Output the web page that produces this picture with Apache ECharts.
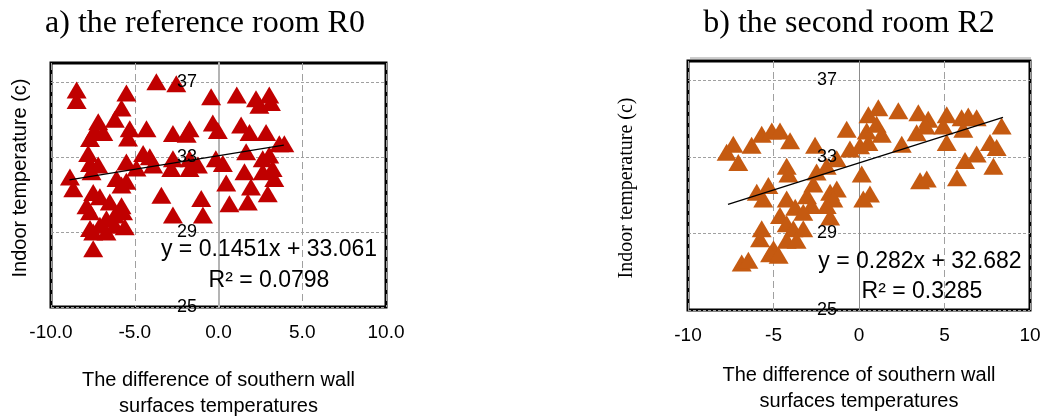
<!DOCTYPE html>
<html>
<head>
<meta charset="utf-8">
<script src="https://cdn.jsdelivr.net/npm/echarts@6/dist/echarts.min.js"></script>
<style>html,body{margin:0;padding:0;background:#fff;}#c{width:1043px;height:418px;}</style>
</head>
<body>
<div id="c"></div>
<script>
// ---- Data ----
const titles = ['a) the reference room R0', 'b) the second room R2'];
const xAxisTitle = 'The difference of southern wall\nsurfaces temperatures';
const yAxisTitle = 'Indoor temperature (c)';
const yTicks = [25, 29, 33, 37];
const xTicks = [-10, -5, 0, 5, 10];

const r0X = [-8.47,-8.47,-3.71,-2.52,-5.5,-5.79,-6.19,-0.44,1.09,2.24,2.44,3.03,3.13,-7.18,-7.38,-6.88,-7.67,-5.3,-5.4,-4.3,-2.72,-1.73,-1.9,-0.34,-0.04,1.35,1.85,2.84,3.63,3.93,-7.78,-7.67,-7.18,-7.58,-8.87,-8.67,-5.5,-4.5,-4.1,-3.9,-4.9,-2.72,-2.82,-1.73,-1.23,-1.73,-0.16,0.26,1.65,1.55,2.64,3.03,3.23,2.64,3.33,1.94,2.94,0.46,0.65,1.75,-3.41,-1.03,-0.93,-2.72,-6.09,-5.79,-5.5,-7.48,-7.08,-7.88,-7.67,-6.49,-5.79,-5.7,-6.19,-6.69,-7.08,-7.67,-7.48,-6.69,-6.19,-5.6,-7.48];
const r0Y = [36.56,36.0,37.0,36.9,36.4,35.6,35.0,36.2,36.3,36.1,35.75,36.3,35.9,34.87,34.4,34.3,33.98,34.5,34.0,34.5,34.24,34.5,34.2,34.8,34.4,34.7,34.3,34.3,33.7,33.7,33.18,32.64,32.56,32.2,31.93,31.3,32.73,33.18,33.0,32.56,32.4,32.9,32.38,32.9,32.56,32.38,32.9,32.64,33.27,32.2,32.9,33.1,32.38,32.2,31.84,31.4,31.04,31.6,30.5,30.6,30.96,30.78,29.9,29.9,31.84,31.5,31.7,31.1,30.87,30.4,30.07,30.6,30.4,30.07,29.9,29.7,29.36,29.18,29.0,29.0,29.36,29.27,28.1];

const r2X = [-7.35,-7.74,-7.06,-6.28,-5.69,-5.1,-4.62,-4.03,-2.57,-4.23,-4.13,-5.98,-5.3,-5.6,-2.48,-2.67,-1.89,-0.72,-0.53,0.06,0.55,0.45,0.16,0.25,0.64,0.55,1.13,1.03,1.33,2.3,2.5,3.47,3.37,4.05,3.9,5.13,4.93,5.13,6.0,6.39,6.88,6.1,7.66,8.34,8.05,6.88,6.2,7.86,5.73,3.57,3.96,-4.23,-3.73,-3.04,-2.77,-3.26,-4.62,-4.23,-3.84,-3.26,-1.69,-1.3,-1.5,-1.69,-1.89,-5.69,-5.79,-5.0,-5.2,-4.7,-6.86,-6.47,-4.23,-3.65,-1.3];
const r2Y = [33.66,33.23,32.7,33.6,34.18,34.35,34.35,33.83,33.6,32.5,32.1,31.15,31.5,30.8,32.2,31.58,32.5,34.44,33.4,33.57,33.74,34.35,32.1,30.8,31.06,35.2,35.56,34.7,34.18,35.4,33.66,35.3,34.26,34.96,34.6,35.2,34.6,33.74,35.04,35.13,35.04,34.44,33.74,34.6,33.48,33.14,32.8,32.5,31.9,31.75,31.84,30.8,30.37,30.97,30.45,30.1,29.94,29.5,29.24,29.24,31.15,31.32,30.8,29.85,30.45,29.24,28.72,28.2,27.94,27.86,27.45,27.6,28.64,28.64,32.9];

// trendline endpoints and equations
const trendR0 = [[-8.9, 31.77], [3.9, 33.63]];
const trendR2 = [[-7.66, 30.52], [8.42, 35.06]];
const eqR0 = ['y = 0.1451x + 33.061', 'R² = 0.0798'];
const eqR2 = ['y = 0.282x + 32.682', 'R² = 0.3285'];

const colors = ['#C00000', '#C55A11'];

// ---- Build ----
const zip = (a, b) => a.map((v, i) => [v, b[i]]);
const sans = 'Liberation Sans, Arial, sans-serif';
const serif = 'Liberation Serif, Times New Roman, serif';

function xAx(idx, fmt, gap) {
  return {
    gridIndex: idx, type: 'value', min: -10, max: 10, interval: 5,
    axisLine: { show: false, onZero: false },
    axisTick: { show: false },
    axisLabel: { formatter: fmt, fontFamily: sans, fontSize: 19, color: '#000', margin: 16 },
    splitLine: { show: true, lineStyle: { color: '#a0a0a0', width: 1, type: [7, 4] } },
    name: xAxisTitle, nameLocation: 'middle', nameGap: gap,
    nameTextStyle: { fontFamily: sans, fontSize: 20, color: '#000', lineHeight: 26, verticalAlign: 'top' }
  };
}
// y axis drawing the zero line and grid lines (behind the markers)
function yAxLines(idx, lineW, lineC) {
  return {
    gridIndex: idx, type: 'value', min: 25, max: 38, position: 'left',
    axisLine: { show: true, onZero: true, lineStyle: { color: lineC, width: lineW } },
    axisTick: { show: false, customValues: yTicks },
    axisLabel: { show: false },
    splitLine: { show: true, lineStyle: { color: '#a0a0a0', width: 1, type: [3, 2] } }
  };
}
// y axis carrying only the tick labels (drawn above the markers, next to x = 0)
function yAxLabels(idx, labelMargin) {
  return {
    gridIndex: idx, type: 'value', min: 25, max: 38, position: 'left', z: 20,
    axisLine: { show: false, onZero: false },
    axisTick: { show: false, customValues: yTicks },
    axisLabel: { customValues: yTicks, fontFamily: sans, fontSize: 18, color: '#000', margin: labelMargin },
    splitLine: { show: false }
  };
}

const option = {
  animation: false,
  grid: [
    { left: 51, top: 63, width: 335, height: 244, show: true, borderColor: '#000', borderWidth: 3, backgroundColor: 'transparent', outerBoundsMode: 'none', containLabel: false },
    { left: 688, top: 61, width: 342, height: 249, show: true, borderColor: '#000', borderWidth: 3, backgroundColor: 'transparent', outerBoundsMode: 'none', containLabel: false }
  ],
  xAxis: [xAx(0, v => v.toFixed(1), 60), xAx(1, v => String(v), 52)],
  yAxis: [yAxLines(0, 2, '#b4b4b4'), yAxLines(1, 1, '#8c8c8c'), yAxLabels(0, -146), yAxLabels(1, -149)],
  series: [
    { type: 'scatter', xAxisIndex: 0, yAxisIndex: 0, symbol: 'triangle', symbolSize: [20, 17], itemStyle: { color: colors[0], opacity: 1 }, data: zip(r0X, r0Y), z: 3 },
    { type: 'scatter', xAxisIndex: 1, yAxisIndex: 1, symbol: 'triangle', symbolSize: [20, 17], itemStyle: { color: colors[1], opacity: 1 }, data: zip(r2X, r2Y), z: 3 },
    { type: 'line', xAxisIndex: 0, yAxisIndex: 0, data: trendR0, symbol: 'none', lineStyle: { color: '#000', width: 1.3 }, z: 4, silent: true },
    { type: 'line', xAxisIndex: 1, yAxisIndex: 1, data: trendR2, symbol: 'none', lineStyle: { color: '#000', width: 1.3 }, z: 4, silent: true }
  ],
  graphic: [
    { type: 'text', x: 205, y: 24, style: { text: titles[0], font: '32px ' + serif, fill: '#000', textAlign: 'center', textVerticalAlign: 'middle' } },
    { type: 'text', x: 849, y: 24, style: { text: titles[1], font: '32px ' + serif, fill: '#000', textAlign: 'center', textVerticalAlign: 'middle' } },
    { type: 'text', x: 20, y: 178, rotation: Math.PI / 2, style: { text: yAxisTitle, font: '20px ' + sans, fill: '#000', textAlign: 'center', textVerticalAlign: 'middle' } },
    { type: 'text', x: 627, y: 188, rotation: Math.PI / 2, style: { text: yAxisTitle, font: '20px ' + serif, fill: '#000', textAlign: 'center', textVerticalAlign: 'middle' } },
    { type: 'text', x: 269, y: 250, z: 10, style: { text: eqR0[0], font: '23px ' + sans, fill: '#000', textAlign: 'center', textVerticalAlign: 'middle' } },
    { type: 'text', x: 269, y: 281, z: 10, style: { text: eqR0[1], font: '23px ' + sans, fill: '#000', textAlign: 'center', textVerticalAlign: 'middle' } },
    { type: 'text', x: 920, y: 262, z: 10, style: { text: eqR2[0], font: '23px ' + sans, fill: '#000', textAlign: 'center', textVerticalAlign: 'middle' } },
    { type: 'text', x: 922, y: 292, z: 10, style: { text: eqR2[1], font: '23px ' + sans, fill: '#000', textAlign: 'center', textVerticalAlign: 'middle' } },
    { type: 'line', shape: { x1: 690, y1: 58, x2: 1031, y2: 58 }, style: { stroke: '#9a9a9a', lineWidth: 1 } }
  ]
};

const chart = echarts.init(document.getElementById('c'), null, { renderer: 'canvas', width: 1043, height: 418 });
chart.setOption(option);
</script>
</body>
</html>
